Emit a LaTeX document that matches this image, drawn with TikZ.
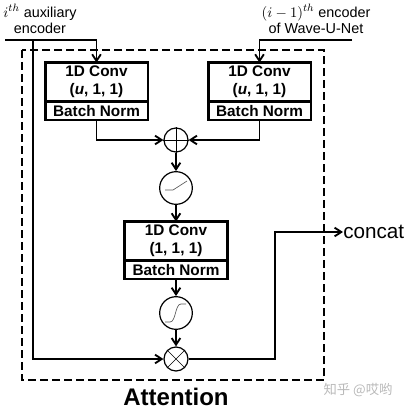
\documentclass[tikz,border=0pt]{standalone}
\usepackage{fontspec}
\setmainfont{Liberation Sans}
\newfontfamily\cjkfont{Noto Sans CJK SC}
\usetikzlibrary{positioning,arrows.meta}

\begin{document}
\begin{tikzpicture}[x=0.75pt,y=-0.75pt,
    >={Straight Barb[length=5pt,width=6.5pt]},
    wire/.style={line width=1.4pt},
    glyph/.style={line width=0.5pt},
    convbox/.style={draw,line width=2pt,minimum width=77pt,minimum height=29pt,
        inner sep=1pt,outer sep=0pt,align=center,
        font=\fontsize{11.5}{13.5}\selectfont\bfseries},
    normbox/.style={draw,line width=2pt,minimum width=77pt,minimum height=14pt,
        inner sep=0pt,outer sep=0pt,
        font=\fontsize{11.5}{13.5}\selectfont\bfseries},
    opcircle/.style={circle,draw,line width=0.9pt,minimum size=18pt,inner sep=0pt},
    actcircle/.style={circle,draw,line width=0.9pt,minimum size=24.5pt,inner sep=0pt},
    label/.style={align=center,font=\fontsize{10.8}{12}\selectfont}]

   \useasboundingbox (0,0) rectangle (404,410);

   % attention block frame
   \draw[line width=1.6pt,dash pattern=on 6pt off 3pt] (22,50) rectangle (324,380);

   % inputs
   \node[label] (auxtxt) at (40,19) {$i^{th}$ auxiliary\\encoder};
   \node[label] (enctxt) at (316,19) {$(i-1)^{th}$ encoder\\of Wave-U-Net};
   \coordinate (auxin) at (5,40);
   \coordinate (auxsplit) at (33,40);
   \coordinate (encin) at (352,40);

   % gating convolutions
   \node[convbox] (convA) at (96.5,82) {1D Conv\\(\textit{u}, 1, 1)};
   \node[normbox,
         below=0pt of convA] (normA) {Batch Norm};
   \node[convbox] (convB) at (259.5,82) {1D Conv\\(\textit{u}, 1, 1)};
   \node[normbox,
         below=0pt of convB] (normB) {Batch Norm};

   \node[opcircle] (add) at (176,140) {};
   \node[actcircle] (relu) at (176,188) {};

   \node[convbox] (convC) at (176,241) {1D Conv\\(1, 1, 1)};
   \node[normbox,
         below=0pt of convC] (normC) {Batch Norm};

   \node[actcircle] (sig) at (176,313) {};
   \node[opcircle] (mul) at (176,359) {};

   \coordinate (outturn) at (275,232);
   \node[anchor=west,inner sep=0pt,
         font=\fontsize{15.5}{18}\selectfont] (concat) at (343,232) {concat};

   \node[font=\fontsize{18}{20}\selectfont\bfseries] (title) at (176,397) {Attention};
   \node[text=gray!55,font=\cjkfont\fontsize{10}{12}\selectfont] (mark) at (358,390) {知乎 @哎哟};

   % symbols inside the circles
   \draw[glyph] (add.north) -- (add.south) (add.west) -- (add.east);
   \draw[glyph] (mul.north west) -- (mul.south east) (mul.north east) -- (mul.south west);
   \draw[glyph,gray!70!black] ([shift={(-11,2)}]relu.center) -- ([shift={(-3,2)}]relu.center)
        -- ([shift={(11,-7)}]relu.center);
   \draw[glyph,gray!70!black] ([shift={(-11,9)}]sig.center) -- ([shift={(-6,9)}]sig.center)
        .. controls ([shift={(0,9)}]sig.center) and ([shift={(-1,-9)}]sig.center) .. ([shift={(5,-9)}]sig.center)
        -- ([shift={(10,-9)}]sig.center);

   % connections
   \draw[wire,->] (auxin) -| (convA.north);
   \draw[wire,->] (auxsplit) |- (mul.west);
   \draw[wire,->] (encin) -| (convB.north);
   \draw[wire,->] (normA.south) |- (add.west);
   \draw[wire,->] (normB.south) |- (add.east);
   \draw[wire,->] (add) -- (relu);
   \draw[wire,->] (relu) -- (convC);
   \draw[wire,->] (normC) -- (sig);
   \draw[wire,->] (sig) -- (mul);
   \draw[wire,->] (mul.east) -| (outturn) -- (concat.west);
\end{tikzpicture}
\end{document}
